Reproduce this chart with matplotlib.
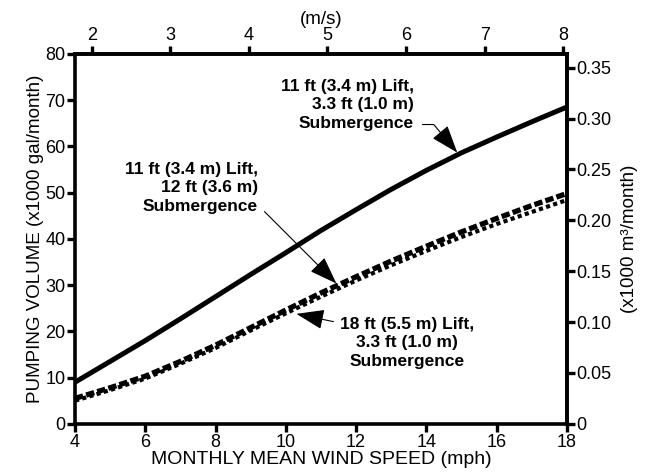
import numpy as np
import matplotlib
matplotlib.use("Agg")
import matplotlib.pyplot as plt
from matplotlib.ticker import FixedLocator, FixedFormatter

plt.rcParams['font.family'] = ['Liberation Sans', 'DejaVu Sans']

# ---- data ----
wind_mph = [4, 5, 6, 7, 8, 9, 10, 11, 12, 13, 14, 15, 16, 17, 18]
lift11_sub33 = [9.0, 13.5, 18.0, 22.7, 27.5, 32.3, 37.0, 41.8, 46.3, 50.7, 54.8, 58.6, 62.0, 65.3, 68.5]
lift11_sub12 = [5.5, 7.8, 10.3, 13.5, 17.0, 20.8, 24.6, 28.3, 31.8, 35.2, 38.4, 41.5, 44.4, 47.2, 49.8]
lift18_sub33 = [5.0, 7.3, 9.8, 13.0, 16.4, 20.2, 23.9, 27.5, 31.0, 34.3, 37.4, 40.4, 43.2, 45.8, 48.4]

x_ticks = [4, 6, 8, 10, 12, 14, 16, 18]
y_ticks = [0, 10, 20, 30, 40, 50, 60, 70, 80]
top_ticks = [2, 3, 4, 5, 6, 7, 8]
right_ticks = [0, 0.05, 0.10, 0.15, 0.20, 0.25, 0.30, 0.35]
right_labels = ["0", "0.05", "0.10", "0.15", "0.20", "0.25", "0.30", "0.35"]

MPH_TO_MS = 0.44704
GAL_TO_M3K = 0.004546  # 1000 imp. gal -> 1000 m3

fig = plt.figure(figsize=(6.55, 4.72), dpi=100)
ax = fig.add_axes([0.1145, 0.102, 0.751, 0.784])

ax.plot(wind_mph, lift11_sub33, color='black', lw=3.6, solid_capstyle='butt')
ax.plot(wind_mph, lift18_sub33, color='black', lw=3.0, dashes=(1.0, 0.8))
ax.plot(wind_mph, lift11_sub12, color='black', lw=3.8, dashes=(1.6, 0.6))

ax.set_xlim(4, 18)
ax.set_ylim(0, 80)
ax.xaxis.set_major_locator(FixedLocator(x_ticks))
ax.yaxis.set_major_locator(FixedLocator(y_ticks))

tick_kw = dict(direction='out', length=6, width=2.4, labelsize=13, pad=1.0)
ax.tick_params(axis='both', **tick_kw)
for s in ax.spines.values():
    s.set_linewidth(2.6)

ax.set_xlabel("MONTHLY MEAN WIND SPEED (mph)", fontsize=14, labelpad=0)
ax.set_ylabel("PUMPING VOLUME (x1000 gal/month)", fontsize=13.5, labelpad=1)

top = ax.secondary_xaxis('top', functions=(lambda x: x * MPH_TO_MS, lambda x: x / MPH_TO_MS))
top.xaxis.set_major_locator(FixedLocator(top_ticks))
top.tick_params(axis='x', **tick_kw)
top.set_xlabel("(m/s)", fontsize=13.5, labelpad=2)
top.spines['top'].set_linewidth(2.6)

right = ax.secondary_yaxis('right', functions=(lambda y: y * GAL_TO_M3K, lambda y: y / GAL_TO_M3K))
right.yaxis.set_major_locator(FixedLocator(right_ticks))
right.yaxis.set_major_formatter(FixedFormatter(right_labels))
right.tick_params(axis='y', **tick_kw)
right.set_ylabel("(x1000 m³/month)", fontsize=13.5, labelpad=7)
right.spines['right'].set_linewidth(2.6)

txt_kw = dict(fontsize=12.5, fontweight='bold', linespacing=1.3)
head = '-|>,head_length=1.4,head_width=0.5'

# annotation 1
tx1 = 14.88
ax.annotate("11 ft (3.4 m) Lift,\n3.3 ft (1.0 m)\nSubmergence",
            xy=(tx1, np.interp(tx1, wind_mph, lift11_sub33) + 0.5),
            xytext=(13.65, 69.0), ha='right', va='center', multialignment='right',
            arrowprops=dict(arrowstyle=head, color='black', lw=0.8,
                            connectionstyle='angle,angleA=0,angleB=-50,rad=0',
                            relpos=(1.0, 0.12), shrinkA=4, shrinkB=0),
            **txt_kw)

# annotation 2
tx2 = 11.44
ax.annotate("11 ft (3.4 m) Lift,\n12 ft (3.6 m)\nSubmergence",
            xy=(tx2, np.interp(tx2, wind_mph, lift11_sub12) + 0.5),
            xytext=(9.2, 51.0), ha='right', va='center', multialignment='right',
            arrowprops=dict(arrowstyle=head, color='black', lw=0.8,
                            connectionstyle='angle,angleA=0,angleB=-45,rad=0',
                            relpos=(1.0, 0.12), shrinkA=4, shrinkB=0),
            **txt_kw)

# annotation 3
tx3 = 10.3
ax.annotate("18 ft (5.5 m) Lift,\n3.3 ft (1.0 m)\nSubmergence",
            xy=(tx3, np.interp(tx3, wind_mph, lift18_sub33) - 1.2),
            xytext=(11.55, 17.5), ha='left', va='center', multialignment='center',
            arrowprops=dict(arrowstyle=head, color='black', lw=0.8,
                            connectionstyle='arc3,rad=0',
                            relpos=(0.0, 0.88), shrinkA=3, shrinkB=0),
            **txt_kw)

fig.savefig("out.png", dpi=100)
